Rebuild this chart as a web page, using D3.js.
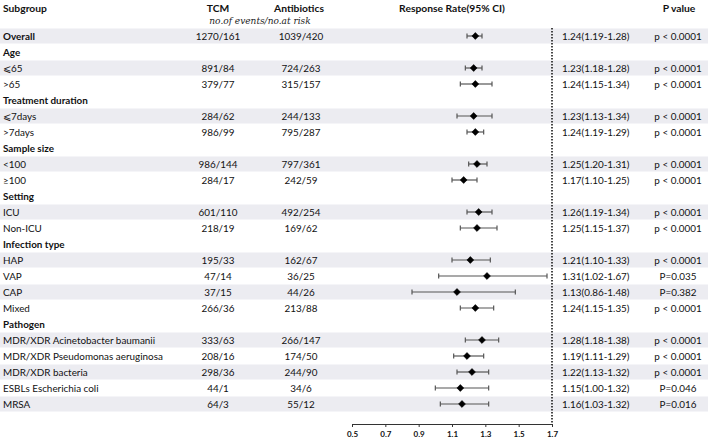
<!DOCTYPE html>
<html>
<head>
<meta charset="utf-8">
<script src="https://cdn.jsdelivr.net/npm/d3@7"></script>
<style>
  body { margin: 0; background: #fff; }
  svg { font-family: Lato, "Open Sans", sans-serif; }
</style>
</head>
<body>
<div id="svg-container"></div>
<script>
// data
const subgroups = ["Overall", "Age", "⩽65", ">65", "Treatment duration", "⩽7days", ">7days",
  "Sample size", "<100", "≥100", "Setting", "ICU", "Non-ICU", "Infection type", "HAP", "VAP",
  "CAP", "Mixed", "Pathogen", "MDR/XDR Acinetobacter baumanii", "MDR/XDR Pseudomonas aeruginosa",
  "MDR/XDR bacteria", "ESBLs Escherichia coli", "MRSA"];
const headerRows = ["Overall", "Age", "Treatment duration", "Sample size", "Setting", "Infection type", "Pathogen"];
const tcm = ["1270/161", "", "891/84", "379/77", "", "284/62", "986/99", "", "986/144", "284/17", "",
  "601/110", "218/19", "", "195/33", "47/14", "37/15", "266/36", "", "333/63", "208/16", "298/36", "44/1", "64/3"];
const antibiotics = ["1039/420", "", "724/263", "315/157", "", "244/133", "795/287", "", "797/361", "242/59", "",
  "492/254", "169/62", "", "162/67", "36/25", "44/26", "213/88", "", "266/147", "174/50", "244/90", "34/6", "55/12"];
const rr = [1.24, null, 1.23, 1.24, null, 1.23, 1.24, null, 1.25, 1.17, null, 1.26, 1.25, null,
  1.21, 1.31, 1.13, 1.24, null, 1.28, 1.19, 1.22, 1.15, 1.16];
const lower = [1.19, null, 1.18, 1.15, null, 1.13, 1.19, null, 1.20, 1.10, null, 1.19, 1.15, null,
  1.10, 1.02, 0.86, 1.15, null, 1.18, 1.11, 1.13, 1.00, 1.03];
const upper = [1.28, null, 1.28, 1.34, null, 1.34, 1.29, null, 1.31, 1.25, null, 1.34, 1.37, null,
  1.33, 1.67, 1.48, 1.35, null, 1.38, 1.29, 1.32, 1.32, 1.32];
const pvalues = ["p < 0.0001", "", "p < 0.0001", "p < 0.0001", "", "p < 0.0001", "p < 0.0001", "",
  "p < 0.0001", "p < 0.0001", "", "p < 0.0001", "p < 0.0001", "", "p < 0.0001", "P=0.035", "P=0.382",
  "p < 0.0001", "", "p < 0.0001", "p < 0.0001", "p < 0.0001", "P=0.046", "P=0.016"];
const xTicks = [0.5, 0.7, 0.9, 1.1, 1.3, 1.5, 1.7];
const refValue = 1.7;

const width = 708, height = 440;
const svg = d3.select("#svg-container").append("svg")
  .attr("width", width).attr("height", height);

const rows = subgroups.map((s, i) => ({
  label: s, header: headerRows.includes(s), tcm: tcm[i], abx: antibiotics[i],
  rr: rr[i], lo: lower[i], hi: upper[i], p: pvalues[i]
}));
// shading: overall + alternating within each group
let k = 0;
rows.forEach((d, i) => {
  if (i === 0) { d.shade = true; return; }
  if (d.header) { k = 0; d.shade = false; return; }
  d.shade = k % 2 === 0; k++;
});

// scales
const x = d3.scaleLinear().domain([0.5, 1.7]).range([352, 552]);
const y = d3.scaleBand().domain(d3.range(rows.length)).range([28, 28 + 16 * rows.length]);

// bands
svg.selectAll(".band").data(rows.filter(d => d.shade)).join("rect")
  .attr("x", 0).attr("width", width)
  .attr("y", d => y(rows.indexOf(d)) + 0.5).attr("height", 15)
  .attr("fill", "#ececf1");

// headers
const head = svg.append("g").attr("font-weight", "bold").attr("font-size", 10.3).attr("fill", "#111");
head.append("text").attr("x", 3).attr("y", 12).text("Subgroup");
head.append("text").attr("x", 218).attr("y", 12).attr("text-anchor", "middle").text("TCM");
head.append("text").attr("x", 299).attr("y", 12).attr("text-anchor", "middle").text("Antibiotics");
head.append("text").attr("x", 452).attr("y", 12).attr("text-anchor", "middle").text("Response Rate(95% CI)");
head.append("text").attr("x", 679).attr("y", 12).attr("text-anchor", "middle").text("P value");
svg.append("text").attr("x", 260).attr("y", 24).attr("text-anchor", "middle")
  .attr("font-family", "'DejaVu Serif', serif").attr("font-style", "italic")
  .attr("font-size", 9).attr("fill", "#222").text("no.of events/no.at risk");

// row texts
const rowG = svg.selectAll(".row").data(rows).join("g")
  .attr("transform", (d, i) => `translate(0,${y(i) + y.bandwidth() / 2 + 3.6})`)
  .attr("font-size", 9.9).attr("fill", "#111");
rowG.append("text").attr("x", 3)
  .attr("font-weight", d => d.header ? "bold" : "normal").text(d => d.label);
rowG.append("text").attr("x", 218).attr("text-anchor", "middle").text(d => d.tcm);
rowG.append("text").attr("x", 301).attr("text-anchor", "middle").text(d => d.abx);
rowG.append("text").attr("x", 562)
  .text(d => d.rr == null ? "" : `${d.rr.toFixed(2)}(${d.lo.toFixed(2)}-${d.hi.toFixed(2)})`);
rowG.append("text").attr("x", 678).attr("text-anchor", "middle").text(d => d.p);

// reference line
svg.append("line")
  .attr("x1", x(refValue)).attr("x2", x(refValue))
  .attr("y1", 28).attr("y2", 424)
  .attr("stroke", "#333").attr("stroke-width", 1.8).attr("stroke-dasharray", "1.6,1.4");

// CIs
const est = rows.filter(d => d.rr != null);
const ci = svg.selectAll(".ci").data(est).join("g")
  .attr("transform", d => `translate(0,${y(rows.indexOf(d)) + y.bandwidth() / 2})`)
  .attr("stroke", "#555").attr("stroke-width", 1.2);
ci.append("line").attr("x1", d => x(d.lo)).attr("x2", d => x(d.hi));
ci.append("line").attr("x1", d => x(d.lo)).attr("x2", d => x(d.lo)).attr("y1", -2.5).attr("y2", 2.5);
ci.append("line").attr("x1", d => x(d.hi)).attr("x2", d => x(d.hi)).attr("y1", -2.5).attr("y2", 2.5);
ci.append("path")
  .attr("d", d3.symbol(d3.symbolDiamond2, 30))
  .attr("transform", d => `translate(${x(d.rr)},0)`)
  .attr("fill", "#000").attr("stroke", "#000").attr("stroke-width", 0.6)
  .attr("stroke-linejoin", "round");

// axis
const axis = svg.append("g").attr("transform", "translate(0,424)")
  .call(d3.axisBottom(x).tickValues(xTicks).tickSize(3).tickSizeOuter(0).tickFormat(d3.format(".1f")));
axis.selectAll("path, line").attr("stroke", "#333");
axis.selectAll("text").attr("font-family", "Lato, sans-serif").attr("font-weight", "bold")
  .attr("font-size", 8).attr("fill", "#111").attr("dy", "0.85em");
</script>
</body>
</html>
